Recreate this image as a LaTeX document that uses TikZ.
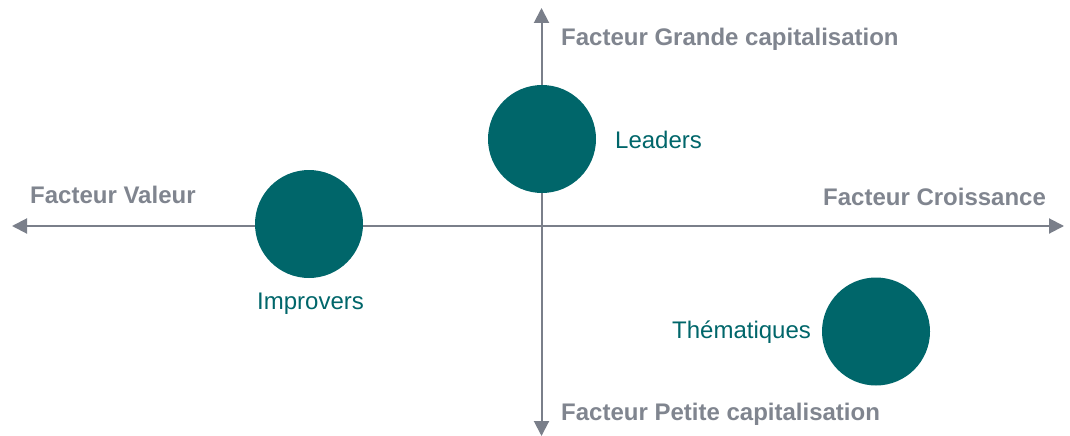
\documentclass[tikz,border=0pt]{standalone}
\usepackage{fontspec}
\setmainfont{Liberation Sans}
\usetikzlibrary{arrows.meta}
\definecolor{axisgray}{HTML}{7A7F8A}
\definecolor{labelgray}{HTML}{80858F}
\definecolor{teal}{HTML}{00666A}
\begin{document}
\begin{tikzpicture}[x=1pt,y=-1pt,
  axis/.style={draw=axisgray,line width=2pt,
    {Triangle[length=15pt,width=15pt]}-{Triangle[length=15pt,width=15pt]}},
  axislabel/.style={anchor=base west,inner sep=0pt,text=labelgray,
    font=\fontsize{24}{28}\selectfont\bfseries},
  bubble/.style={circle,fill=teal,minimum size=108pt,inner sep=0pt},
  bubblelabel/.style={anchor=base west,inner sep=0pt,text=teal,
    font=\fontsize{24}{28}\selectfont}]
  \useasboundingbox (0,0) rectangle (1070,436);

  % axes
  \coordinate (xmin) at (12,226);
  \coordinate (xmax) at (1064,226);
  \coordinate (ymax) at (541.5,8);
  \coordinate (ymin) at (541.5,436);
  \draw[axis] (xmin) -- (xmax);
  \draw[axis] (ymin) -- (ymax);

  % axis labels
  \node[axislabel] (grande) at (561,46) {Facteur Grande capitalisation};
  \node[axislabel] (valeur) at (30,203) {Facteur Valeur};
  \node[axislabel] (croiss) at (823,205) {Facteur Croissance};
  \node[axislabel] (petite) at (561,420) {Facteur Petite capitalisation};

  % bubbles
  \node[bubble] (leaders) at (542,139) {};
  \node[bubble] (improvers) at (309,224) {};
  \node[bubble] (thema) at (876,331.5) {};

  \node[bubblelabel] (leaderslbl) at (615,148) {Leaders};
  \node[bubblelabel] (improverslbl) at (257,309) {Improvers};
  \node[bubblelabel] (themalbl) at (672,338) {Thématiques};
\end{tikzpicture}
\end{document}
